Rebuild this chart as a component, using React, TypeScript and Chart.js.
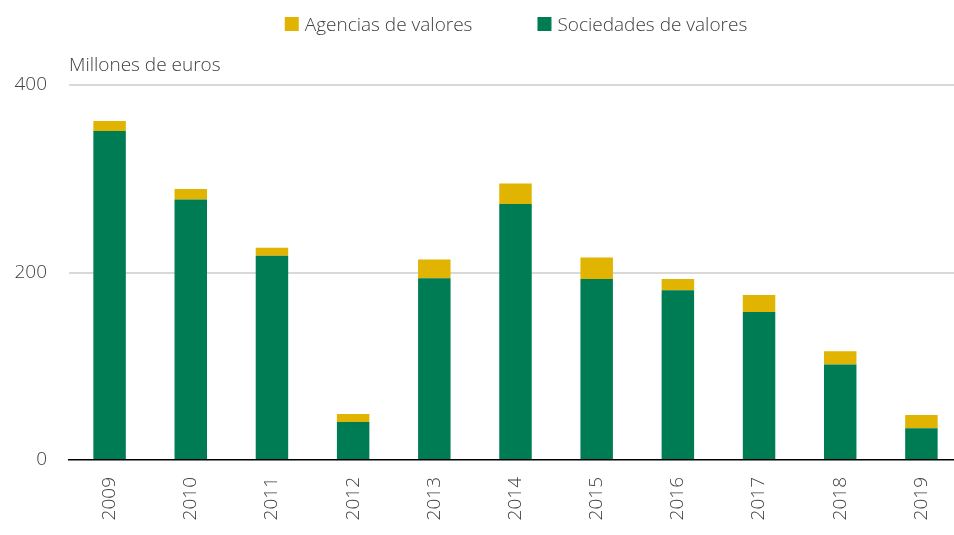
import React, { useEffect, useRef } from "react";
import { Chart, registerables } from "chart.js";

Chart.register(...registerables);

const years = ["2009", "2010", "2011", "2012", "2013", "2014", "2015", "2016", "2017", "2018", "2019"];
const sociedades = [351, 278, 218, 40.5, 194, 273, 193, 181, 158, 102, 34];
const agencias = [10.5, 11, 8.5, 8.5, 20, 22, 23, 12, 18, 14, 14];
const yTicks = [0, 200, 400];
const axisTitle = "Millones de euros";
const labelAgencias = "Agencias de valores";
const labelSociedades = "Sociedades de valores";

const GREEN = "#007C54";
const YELLOW = "#E0B400";
const TEXT = "#404040";
const FONT = "'Open Sans', sans-serif";

const overlayPlugin = {
  id: "overlay",
  afterDraw(chart: any) {
    const ctx = chart.ctx;
    const area = chart.chartArea;
    ctx.save();
    ctx.fillStyle = TEXT;
    ctx.font = `300 19px ${FONT}`;
    ctx.textBaseline = "alphabetic";
    ctx.textAlign = "left";
    ctx.fillText(axisTitle, area.left, 71);

    // legend
    const items = [
      { text: labelAgencias, color: YELLOW },
      { text: labelSociedades, color: GREEN },
    ];
    const box = 14;
    const gapBoxText = 6;
    const gapItems = 65;
    const widths = items.map((it) => box + gapBoxText + ctx.measureText(it.text).width);
    const total = widths.reduce((a, b) => a + b, 0) + gapItems * (items.length - 1);
    let x = 516 - total / 2;
    items.forEach((it, i) => {
      ctx.fillStyle = it.color;
      ctx.fillRect(x, 17, box, box);
      ctx.fillStyle = TEXT;
      ctx.fillText(it.text, x + box + gapBoxText, 31);
      x += widths[i] + gapItems;
    });
    ctx.restore();
  },
};

export default function App() {
  const ref = useRef<HTMLCanvasElement | null>(null);
  useEffect(() => {
    if (!ref.current) return;
    const chart = new Chart(ref.current, {
      type: "bar",
      data: {
        labels: years,
        datasets: [
          {
            label: labelSociedades,
            data: sociedades,
            backgroundColor: GREEN,
            barPercentage: 0.4,
            categoryPercentage: 1,
          },
          {
            label: labelAgencias,
            data: agencias,
            backgroundColor: YELLOW,
            barPercentage: 0.4,
            categoryPercentage: 1,
          },
        ],
      },
      options: {
        animation: false,
        responsive: false,
        layout: { padding: { top: 85, right: 0, bottom: 0, left: 0 } },
        plugins: {
          legend: { display: false },
          tooltip: { enabled: false },
          title: { display: false },
        },
        scales: {
          x: {
            stacked: true,
            grid: { display: false, drawTicks: false },
            border: { display: true, color: "#000000", width: 1.5 },
            ticks: {
              color: TEXT,
              font: { family: FONT, size: 19, weight: "300" as any },
              minRotation: 90,
              maxRotation: 90,
              padding: 17,
            },
            afterFit(scale: any) {
              scale.height = 75;
            },
          },
          y: {
            stacked: true,
            min: 0,
            max: 400,
            afterBuildTicks(scale: any) {
              scale.ticks = yTicks.map((v) => ({ value: v }));
            },
            grid: {
              drawTicks: false,
              lineWidth: 2,
              color: (c: any) => (c.tick && c.tick.value === 0 ? "rgba(0,0,0,0)" : "#D9D9D9"),
            },
            border: { display: false },
            ticks: {
              color: TEXT,
              font: { family: FONT, size: 19, weight: "300" as any },
              padding: 22,
            },
            afterFit(scale: any) {
              scale.width = 69;
            },
          },
        },
      },
      plugins: [overlayPlugin],
    });
    return () => chart.destroy();
  }, []);
  return (
    <div
      style={{
        position: "absolute",
        left: 0,
        top: 0,
        width: 954,
        height: 535,
        overflow: "hidden",
        background: "#fff",
      }}
    >
      <canvas ref={ref} width={962} height={535} style={{ display: "block" }} />
    </div>
  );
}
